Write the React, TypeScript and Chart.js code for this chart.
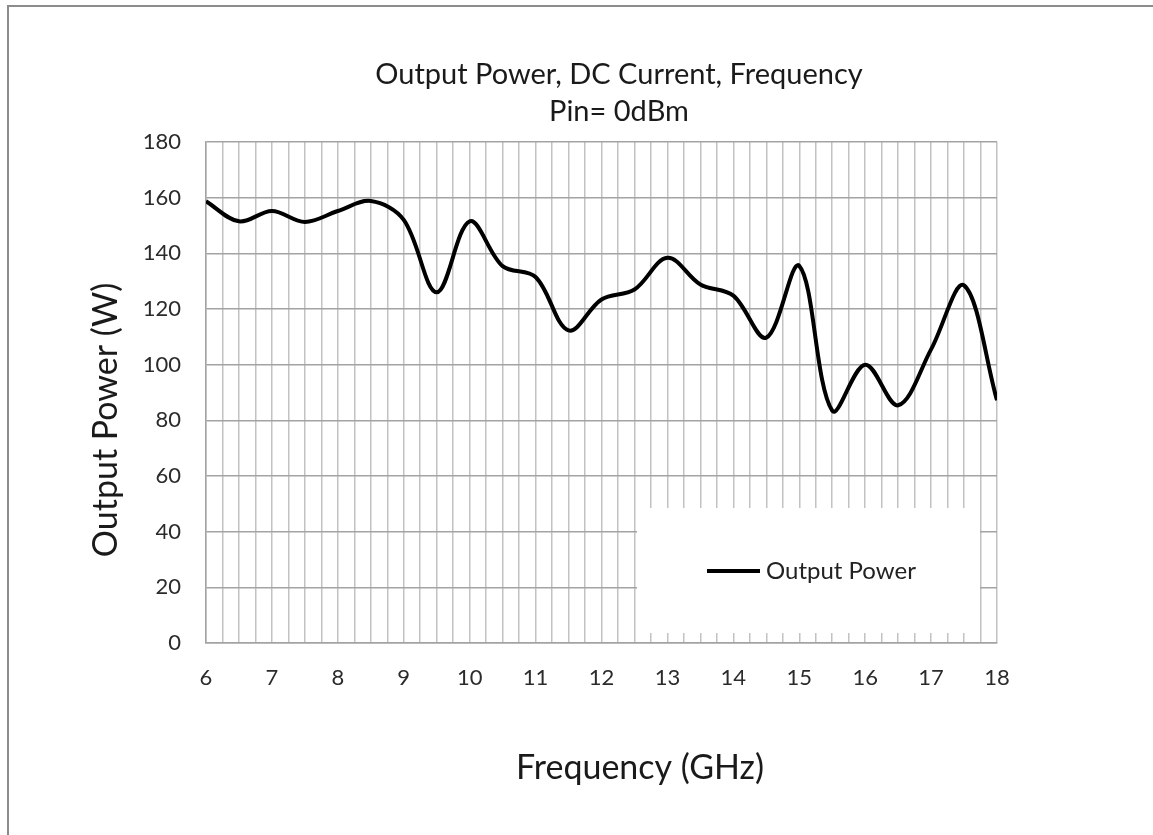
import React, { useEffect, useRef } from "react";
import { Chart, registerables } from "chart.js";

Chart.register(...registerables);

// ---- Data ----
const frequencies: number[] = [
  6, 6.5, 7, 7.5, 8, 8.5, 9, 9.5, 10, 10.5, 11, 11.5, 12,
  12.5, 13, 13.5, 14, 14.5, 15, 15.5, 16, 16.5, 17, 17.5, 18,
];
const outputPower: number[] = [
  158.7, 151.5, 155.2, 151.3, 155.2, 158.8, 152, 126, 151.5, 135.4, 131.5, 112.3, 123.4,
  127, 138.4, 128.8, 124.8, 109.7, 135.5, 83.5, 100, 85.4, 105.5, 128.5, 87.2,
];
const titleLines: string[] = ["Output Power, DC Current, Frequency", "Pin= 0dBm"];
const xAxisTitle = "Frequency (GHz)";
const yAxisTitle = "Output Power (W)";
const seriesLabel = "Output Power";
const xMin = 6;
const xMax = 18;
const xGridStep = 0.25;
const yMin = 0;
const yMax = 180;
const yStep = 20;

const FONT = "Lato, 'Open Sans', 'DejaVu Sans', sans-serif";
const W = 1153;
const H = 835;

const decorPlugin = {
  id: "decor",
  beforeDraw(chart: any) {
    const { ctx } = chart;
    ctx.save();
    ctx.fillStyle = "#ffffff";
    ctx.fillRect(0, 0, W, H);
    ctx.strokeStyle = "#8c8c8c";
    ctx.lineWidth = 2;
    ctx.beginPath();
    ctx.moveTo(8, H);
    ctx.lineTo(8, 6);
    ctx.lineTo(W, 6);
    ctx.stroke();
    ctx.restore();
  },
  afterDatasetsDraw(chart: any) {
    const { ctx } = chart;
    const ds = chart.data.datasets[0];
    ctx.save();
    // legend box inside plot area
    ctx.fillStyle = "#ffffff";
    ctx.fillRect(637, 508, 343, 125);
    ctx.strokeStyle = ds.borderColor;
    ctx.lineWidth = ds.borderWidth;
    ctx.beginPath();
    ctx.moveTo(707, 571);
    ctx.lineTo(760, 571);
    ctx.stroke();
    ctx.fillStyle = "#222222";
    ctx.font = `24px ${FONT}`;
    ctx.textAlign = "left";
    ctx.textBaseline = "middle";
    ctx.fillText(ds.label, 766, 571);
    ctx.restore();
  },
  afterDraw(chart: any) {
    const { ctx } = chart;
    ctx.save();
    ctx.fillStyle = "#1a1a1a";
    ctx.textAlign = "center";
    ctx.textBaseline = "middle";
    ctx.font = `29px ${FONT}`;
    ctx.fillText(titleLines[0], 619, 75);
    ctx.fillText(titleLines[1], 619, 112);
    ctx.font = `34px ${FONT}`;
    ctx.fillText(xAxisTitle, 640, 768);
    ctx.translate(106, 420);
    ctx.rotate(-Math.PI / 2);
    ctx.fillText(yAxisTitle, 0, 0);
    ctx.restore();
  },
};

export default function App() {
  const canvasRef = useRef<HTMLCanvasElement | null>(null);

  useEffect(() => {
    const canvas = canvasRef.current;
    if (!canvas) return;
    const chart = new Chart(canvas, {
      type: "line",
      data: {
        datasets: [
          {
            label: seriesLabel,
            data: frequencies.map((f, i) => ({ x: f, y: outputPower[i] })),
            borderColor: "#000000",
            borderWidth: 4,
            pointRadius: 0,
            tension: 0.35,
            fill: false,
          },
        ],
      },
      options: {
        responsive: false,
        animation: false,
        devicePixelRatio: 1,
        layout: { padding: { top: 142, right: 156, left: 0, bottom: 0 } },
        plugins: {
          legend: { display: false },
          title: { display: false },
          tooltip: { enabled: false },
        },
        scales: {
          x: {
            type: "linear",
            min: xMin,
            max: xMax,
            afterFit: (s: any) => {
              s.height = 192;
            },
            ticks: {
              stepSize: xGridStep,
              autoSkip: false,
              maxRotation: 0,
              minRotation: 0,
              padding: 22,
              color: "#2b2b2b",
              font: { family: FONT, size: 22 },
              callback: (v: any) => (Number.isInteger(v) ? String(v) : ""),
            },
            grid: { color: "#c2c2c2", lineWidth: 1.5, drawTicks: false },
            border: { color: "#a3a3a3", width: 1.5 },
          },
          y: {
            type: "linear",
            min: yMin,
            max: yMax,
            afterFit: (s: any) => {
              s.width = 206;
            },
            ticks: {
              stepSize: yStep,
              padding: 25,
              color: "#2b2b2b",
              font: { family: FONT, size: 22 },
            },
            grid: { color: "#a3a3a3", lineWidth: 1.5, drawTicks: false },
            border: { color: "#a3a3a3", width: 1.5 },
          },
        },
      },
      plugins: [decorPlugin],
    });
    return () => chart.destroy();
  }, []);

  return (
    <div style={{ position: "absolute", left: 0, top: 0, width: W, height: H, background: "#fff" }}>
      <canvas ref={canvasRef} width={W} height={H} style={{ display: "block" }} />
    </div>
  );
}
